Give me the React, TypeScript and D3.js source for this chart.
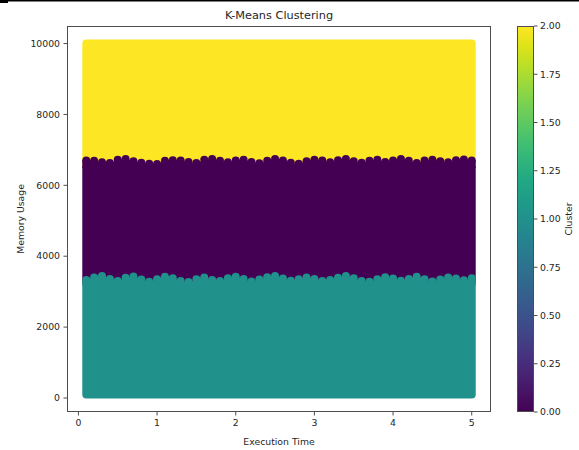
import React from "react";
import * as d3 from "d3";

// ---- data ----
const clusterIds = [0, 1, 2];
const execTimeExtent = [0.1, 5.0];
const memoryExtent = [100, 10000];
const xTicks = [0, 1, 2, 3, 4, 5];
const yTicks = [0, 2000, 4000, 6000, 8000, 10000];
const cbTicks = [0, 0.25, 0.5, 0.75, 1.0, 1.25, 1.5, 1.75, 2.0];

// sample positions along execution time where the cluster borders were read
const edgeX = [
  0.1, 0.2, 0.3, 0.4, 0.5, 0.6, 0.7, 0.8, 0.9, 1.0,
  1.1, 1.2, 1.3, 1.4, 1.5, 1.6, 1.7, 1.8, 1.9, 2.0,
  2.1, 2.2, 2.3, 2.4, 2.5, 2.6, 2.7, 2.8, 2.9, 3.0,
  3.1, 3.2, 3.3, 3.4, 3.5, 3.6, 3.7, 3.8, 3.9, 4.0,
  4.1, 4.2, 4.3, 4.4, 4.5, 4.6, 4.7, 4.8, 4.9, 5.0,
];
// highest memory usage of cluster 0 points (border with cluster 2)
const cluster0Top = [
  6700, 6690, 6650, 6630, 6720, 6740, 6680, 6640, 6610, 6600,
  6690, 6710, 6700, 6660, 6630, 6720, 6745, 6690, 6650, 6700,
  6720, 6660, 6620, 6690, 6740, 6700, 6640, 6610, 6680, 6720,
  6700, 6650, 6710, 6745, 6680, 6640, 6690, 6720, 6660, 6700,
  6740, 6690, 6630, 6700, 6720, 6680, 6650, 6710, 6730, 6700,
];
// highest memory usage of cluster 1 points (border with cluster 0)
const cluster1Top = [
  3330, 3400, 3440, 3360, 3300, 3390, 3430, 3340, 3280, 3350,
  3420, 3380, 3300, 3270, 3350, 3400, 3330, 3300, 3380, 3420,
  3360, 3290, 3340, 3410, 3440, 3370, 3310, 3350, 3400, 3360,
  3300, 3330, 3390, 3440, 3380, 3300, 3280, 3350, 3410, 3370,
  3310, 3360, 3420, 3350, 3290, 3340, 3400, 3370, 3320, 3380,
];

const W = 579;
const H = 450;
const plot = { left: 67, right: 491, top: 26, bottom: 412 };
const R = 4; // marker radius in px
const FONT = "DejaVu Sans, Liberation Sans, sans-serif";
const TXT = "#262626";
const SPINE = "#4d4d4d";

function padded(ext: number[]) {
  const p = 0.05 * (ext[1] - ext[0]);
  return [ext[0] - p, ext[1] + p];
}

export default function App() {
  const x = d3.scaleLinear().domain(padded(execTimeExtent)).range([plot.left, plot.right]);
  const y = d3.scaleLinear().domain(padded(memoryExtent)).range([plot.bottom, plot.top]);
  const cb = d3.scaleLinear().domain([0, 2]).range([plot.bottom, plot.top]);
  const color = (c: number) => d3.interpolateViridis(c / 2);

  const x0 = x(execTimeExtent[0]);
  const x1 = x(execTimeExtent[1]);
  const yTop = y(memoryExtent[1]);
  const yBot = y(memoryExtent[0]);

  const band = (tops: number[], bottomPx: number, c: number, key: string) => {
    const minV = d3.min(tops) as number;
    const baseY = y(minV);
    const pts = edgeX.map((v, i) => [x(v), y(tops[i])] as [number, number]);
    const area = d3
      .area<[number, number]>()
      .x((d) => d[0])
      .y0(baseY)
      .y1((d) => d[1])
      .curve(d3.curveMonotoneX);
    const fill = color(c);
    return (
      <g key={key}>
        <rect x={x0 - R} y={baseY} width={x1 - x0 + 2 * R} height={bottomPx - baseY} rx={R} fill={fill} />
        <rect x={x0 - R} y={pts[0][1]} width={R} height={baseY - pts[0][1] + R} fill={fill} />
        <rect x={x1} y={pts[pts.length - 1][1]} width={R} height={baseY - pts[pts.length - 1][1] + R} fill={fill} />
        <path d={area(pts) || ""} fill={fill} />
        {pts.map((p, i) => (
          <circle key={i} cx={p[0]} cy={p[1]} r={R} fill={fill} />
        ))}
      </g>
    );
  };

  const gradId = "viridisGrad";
  const stops = d3.range(0, 1.0001, 0.05);

  const cbX0 = 517;
  const cbX1 = 534;

  return (
    <svg
      width={W}
      height={H}
      style={{ position: "absolute", left: 0, top: 0, background: "#fff" }}
      fontFamily={FONT}
    >
      <defs>
        <linearGradient id={gradId} x1="0" y1="1" x2="0" y2="0">
          {stops.map((t, i) => (
            <stop key={i} offset={t} stopColor={d3.interpolateViridis(t)} />
          ))}
        </linearGradient>
      </defs>
      <rect x={0} y={0} width={W} height={H} fill="#fff" />
      {/* top border line */}
      <rect x={0} y={0} width={W} height={1.5} fill="#000" />
      <rect x={0} y={0} width={8} height={3} fill="#000" />

      {/* cluster 2 (top) */}
      <rect
        x={x0 - R}
        y={yTop - R}
        width={x1 - x0 + 2 * R}
        height={y(6400) - yTop + R}
        rx={R}
        fill={color(clusterIds[2])}
      />
      {/* cluster 0 (middle) */}
      {band(cluster0Top, y(3150), clusterIds[0], "c0")}
      {/* cluster 1 (bottom) */}
      {band(cluster1Top, yBot + R, clusterIds[1], "c1")}

      {/* spines */}
      <rect
        x={plot.left + 0.5}
        y={plot.top + 0.5}
        width={plot.right - plot.left - 1}
        height={plot.bottom - plot.top - 1}
        fill="none"
        stroke={SPINE}
        strokeWidth={1}
      />

      {/* x ticks */}
      {xTicks.map((t) => (
        <g key={"x" + t} transform={`translate(${x(t)},${plot.bottom})`}>
          <line y1={0} y2={3.5} stroke={SPINE} strokeWidth={1} />
          <text y={14} textAnchor="middle" fontSize={9.3} fill={TXT}>
            {t}
          </text>
        </g>
      ))}
      {/* y ticks */}
      {yTicks.map((t) => (
        <g key={"y" + t} transform={`translate(${plot.left},${y(t)})`}>
          <line x1={0} x2={-3.5} stroke={SPINE} strokeWidth={1} />
          <text x={-7} dy="0.35em" textAnchor="end" fontSize={9.3} fill={TXT}>
            {t}
          </text>
        </g>
      ))}

      {/* labels */}
      <text x={(plot.left + plot.right) / 2} y={18.5} textAnchor="middle" fontSize={11.3} fill={TXT}>
        K-Means Clustering
      </text>
      <text x={(plot.left + plot.right) / 2} y={445} textAnchor="middle" fontSize={9.3} fill={TXT}>
        Execution Time
      </text>
      <text
        transform={`translate(23.5,${(plot.top + plot.bottom) / 2}) rotate(-90)`}
        textAnchor="middle"
        fontSize={9.3}
        fill={TXT}
      >
        Memory Usage
      </text>

      {/* colorbar */}
      <rect x={cbX0} y={plot.top} width={cbX1 - cbX0} height={plot.bottom - plot.top} fill={`url(#${gradId})`} />
      <rect
        x={cbX0 + 0.5}
        y={plot.top + 0.5}
        width={cbX1 - cbX0 - 1}
        height={plot.bottom - plot.top - 1}
        fill="none"
        stroke={SPINE}
        strokeWidth={1}
      />
      {cbTicks.map((t) => (
        <g key={"c" + t} transform={`translate(${cbX1},${cb(t)})`}>
          <line x1={0} x2={3.5} stroke={SPINE} strokeWidth={1} />
          <text x={6} dy="0.35em" textAnchor="start" fontSize={9.3} fill={TXT}>
            {t.toFixed(2)}
          </text>
        </g>
      ))}
      <text
        transform={`translate(572,${(plot.top + plot.bottom) / 2}) rotate(-90)`}
        textAnchor="middle"
        fontSize={9.3}
        fill={TXT}
      >
        Cluster
      </text>
    </svg>
  );
}
